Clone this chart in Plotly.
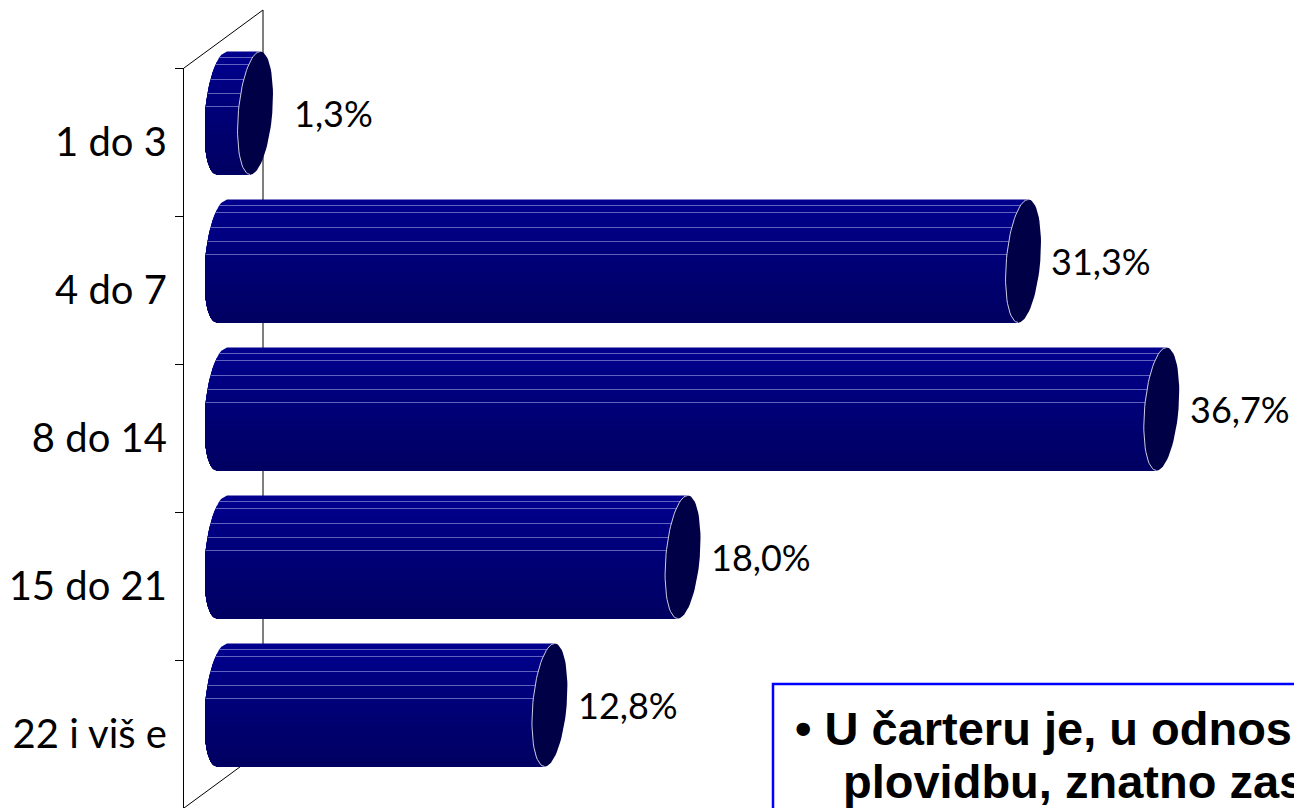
import numpy as np
import plotly.graph_objects as go

# ---------------- data ----------------
categories = ["1 do 3", "4 do 7", "8 do 14", "15 do 21", "22 i viš e"]
values = [1.3, 31.3, 36.7, 18.0, 12.8]
value_labels = ["1,3%", "31,3%", "36,7%", "18,0%", "12,8%"]
note_line1 = "• U čarteru je, u odnos"
note_line2 = "plovidbu, znatno zas"

# ---------------- geometry (pixels) ----------------
W, H = 1294, 808
X0_PX = 205          # where value 0 sits
PX_PER_PCT = 25.6
X_MAX = (W - X0_PX) / PX_PER_PCT
BAR_C0_PX = 113      # centre of first bar
PITCH = 148
Y_TOP = -BAR_C0_PX / PITCH
Y_BOT = (H - BAR_C0_PX) / PITCH

R = 17 / PX_PER_PCT     # ellipse half-width (data units)
S = 5 / PX_PER_PCT      # ellipse shear
HH = 61.5 / PITCH       # bar half-height (data units)

BODY_TOP = np.array([0, 0, 140])
BODY_BOT = np.array([0, 0, 98])
CAP_COLOR = "rgb(0,0,70)"
FACET_OFFS = [6, 13, 28, 42, 55]

fig = go.Figure()

# invisible trace to define category axis (front wall)
fig.add_trace(go.Scatter(x=[0] * len(categories), y=categories, mode="markers",
                         marker=dict(opacity=0), hoverinfo="skip", showlegend=False,
                         xaxis="x", yaxis="y"))


def left_x(c, vv):
    return c - R * np.sqrt(np.clip(1 - vv ** 2, 0, 1)) + S * vv


for i, v in enumerate(values):
    c0 = R
    ce = v + R
    nstrip = 12
    for k in range(nstrip):
        vv_a = 1 - 2 * k / nstrip
        vs = np.linspace(vv_a, -1, 40)
        xs = list(left_x(c0, vs)) + [ce - S, ce + S * vv_a]
        ys = list(i - vs * HH) + [i + HH, i - vv_a * HH]
        f = k / (nstrip - 1)
        col = BODY_TOP * (1 - f) + BODY_BOT * f
        fig.add_trace(go.Scatter(x=xs, y=ys, fill="toself", mode="lines",
                                 line=dict(width=0), fillcolor=f"rgb({col[0]:.0f},{col[1]:.0f},{col[2]:.0f})",
                                 hoverinfo="skip", showlegend=False, xaxis="x2", yaxis="y2"))
    # facet lines
    lx, ly = [], []
    for off in FACET_OFFS:
        vv = 1 - 2 * off / 123
        lx += [left_x(c0, vv), ce + S * vv, None]
        ly += [i - vv * HH, i - vv * HH, None]
    fig.add_trace(go.Scatter(x=lx, y=ly, mode="lines",
                             line=dict(width=1, color="rgba(130,130,210,0.75)"),
                             hoverinfo="skip", showlegend=False, xaxis="x2", yaxis="y2"))
    # end cap
    t = np.linspace(0, 2 * np.pi, 80)
    cx = ce + R * np.cos(t) + S * np.sin(t)
    cy = i - np.sin(t) * HH
    fig.add_trace(go.Scatter(x=cx, y=cy, fill="toself", mode="lines",
                             line=dict(width=0), fillcolor=CAP_COLOR,
                             hoverinfo="skip", showlegend=False, xaxis="x2", yaxis="y2"))
    th = np.linspace(np.pi / 2, 3 * np.pi / 2, 40)
    fig.add_trace(go.Scatter(x=ce + R * np.cos(th) + S * np.sin(th), y=i - np.sin(th) * HH,
                             mode="lines", line=dict(width=1, color="rgba(225,225,240,0.9)"),
                             hoverinfo="skip", showlegend=False, xaxis="x2", yaxis="y2"))
    fig.add_annotation(x=v, y=i, xref="x2", yref="y2", text=value_labels[i],
                       showarrow=False, xanchor="center", xshift=95,
                       font=dict(family="Lato", size=36, color="black"))


def px(x):
    return x / W


def py(y):
    return 1 - y / H


wall = dict(color="black", width=1)
shapes = [
    dict(type="line", xref="paper", yref="paper", x0=px(184), y0=py(68), x1=px(263), y1=py(10), line=wall, layer="below"),
    dict(type="line", xref="paper", yref="paper", x0=px(263), y0=py(10), x1=px(263), y1=py(750), line=wall, layer="below"),
    dict(type="line", xref="paper", yref="paper", x0=px(184), y0=py(808), x1=px(263), y1=py(750), line=wall, layer="below"),
    dict(type="rect", xref="paper", yref="paper", x0=px(773), y0=-0.1, x1=1.1, y1=py(684),
         line=dict(color="#0000FF", width=2.5), fillcolor="white", layer="above"),
]

fig.add_annotation(xref="paper", yref="paper", x=px(793), y=py(728), text=f"<b>{note_line1}</b>",
                   showarrow=False, xanchor="left", yanchor="middle",
                   font=dict(family="Liberation Sans", size=47, color="black"))
fig.add_annotation(xref="paper", yref="paper", x=px(841), y=py(781), text=f"<b>{note_line2}</b>",
                   showarrow=False, xanchor="left", yanchor="middle",
                   font=dict(family="Liberation Sans", size=47, color="black"))

fig.update_layout(
    width=W, height=H,
    margin=dict(l=0, r=0, t=0, b=0),
    paper_bgcolor="white", plot_bgcolor="rgba(0,0,0,0)",
    showlegend=False,
    shapes=shapes,
    xaxis=dict(domain=[px(184), 1], visible=False, range=[0, 1], anchor="y"),
    yaxis=dict(domain=[0, py(68)], type="category", categoryarray=categories,
               range=[4.5, -0.5], anchor="x", showline=True, linecolor="black", linewidth=1,
               ticks="outside", ticklen=8, tickcolor="black", tickson="boundaries",
               showgrid=False, zeroline=False, ticklabelstandoff=8,
               tickfont=dict(family="Lato", size=40, color="black")),
    xaxis2=dict(domain=[px(X0_PX), 1], range=[0, X_MAX], visible=False, anchor="y2"),
    yaxis2=dict(domain=[0, 1], range=[Y_BOT, Y_TOP], visible=False, anchor="x2"),
)

fig.write_html("out.html", config={"displayModeBar": False},
               post_script="document.body.style.margin='0';")
